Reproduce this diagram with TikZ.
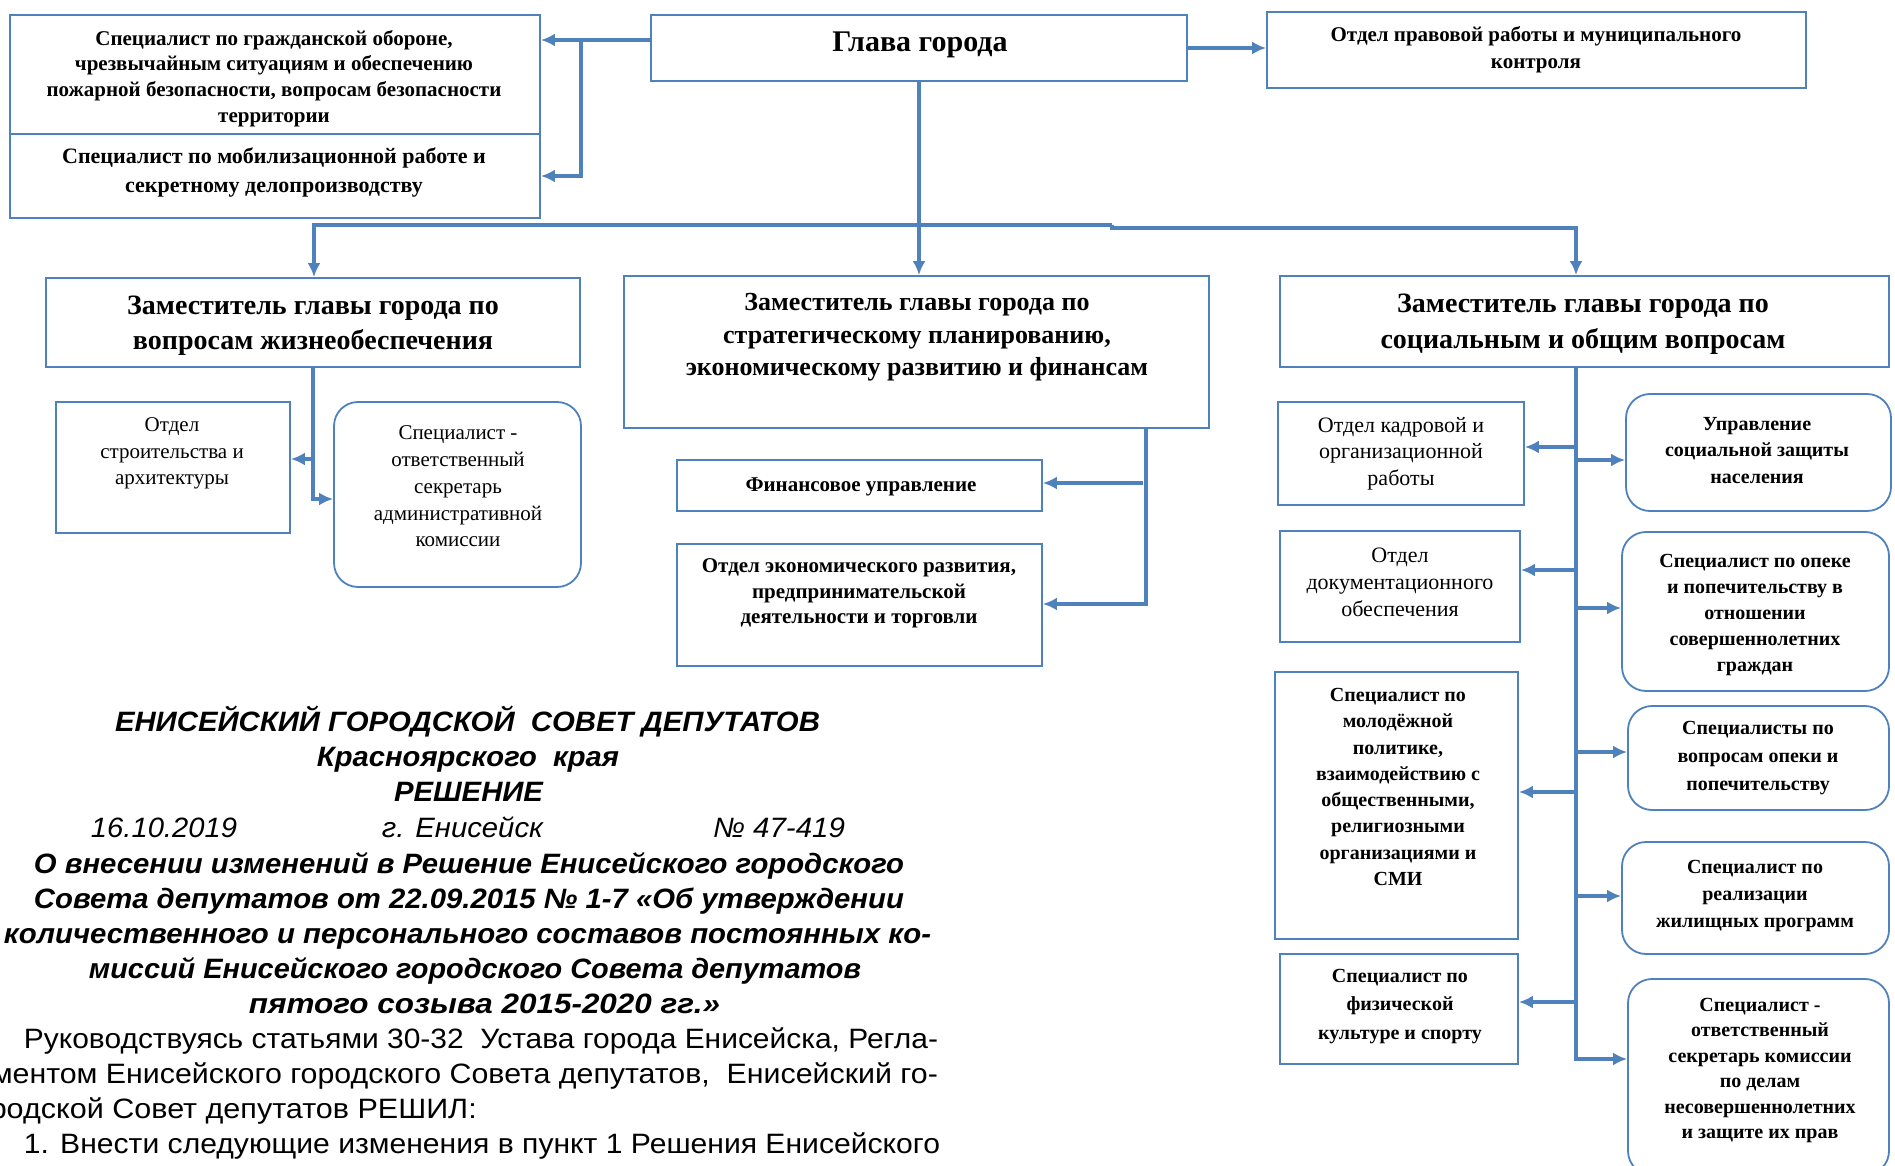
\documentclass[tikz,border=0pt]{standalone}
\usepackage{fontspec}
\setmainfont{Liberation Serif}
\newfontfamily\sansf{Liberation Sans}
\usetikzlibrary{arrows.meta,calc}
\definecolor{lblue}{HTML}{4F81BD}
\newcommand\fitw[2]{\resizebox{#1}{\height}{#2}}
\begin{document}
\begin{tikzpicture}[x=1pt,y=-1pt,
 box/.style={draw=lblue,line width=1.8pt,inner sep=0pt,fill=white},
 rbox/.style={box,rounded corners=24pt},
 txt/.style={inner sep=0pt,align=center},
 conn/.style={draw=lblue,line width=3.5pt},
 arr/.style={conn,-{Latex[length=14pt,width=13pt]}},
 doc/.style={inner sep=0pt,anchor=base,font=\sansf\fontsize{28}{34}\selectfont},
 dochead/.style={doc,font=\sansf\fontsize{28}{34}\selectfont\bfseries\itshape}
]
\useasboundingbox (0,0) rectangle (1895,1166);
\clip (0,0) rectangle (1895,1166);

% ---------- boxes ----------
\node[box,minimum width=530pt,minimum height=119pt] (a1) at (275,74.5) {};
\node[box,minimum width=530pt,minimum height=84pt] (a2) at (275,176) {};
\node[box,minimum width=536pt,minimum height=66pt] (glava) at (919,48) {};
\node[box,minimum width=539pt,minimum height=76pt] (prav) at (1536.5,50) {};
\node[box,minimum width=534pt,minimum height=89pt] (dep1) at (313,322.5) {};
\node[box,minimum width=585pt,minimum height=152pt] (dep2) at (916.5,352) {};
\node[box,minimum width=609pt,minimum height=91pt] (dep3) at (1584.5,321.5) {};
\node[box,minimum width=234pt,minimum height=131pt] (stroi) at (173,467.5) {};
\node[rbox,minimum width=247pt,minimum height=185pt] (adm) at (457.5,494.5) {};
\node[box,minimum width=365pt,minimum height=51pt] (fin) at (859.5,485.5) {};
\node[box,minimum width=365pt,minimum height=122pt] (ekon) at (859.5,605) {};
\node[box,minimum width=246pt,minimum height=103pt] (kadr) at (1401,453.5) {};
\node[box,minimum width=240pt,minimum height=111pt] (dokum) at (1400,586.5) {};
\node[box,minimum width=243pt,minimum height=267pt] (molod) at (1396.5,805.5) {};
\node[box,minimum width=238pt,minimum height=110pt] (fiz) at (1399,1009) {};
\node[rbox,minimum width=265pt,minimum height=117pt] (upr) at (1758.5,452.5) {};
\node[rbox,minimum width=267pt,minimum height=159pt] (opeka) at (1755.5,611.5) {};
\node[rbox,minimum width=261pt,minimum height=104pt] (opek2) at (1758.5,758) {};
\node[rbox,minimum width=267pt,minimum height=112pt] (real) at (1755.5,898) {};
\node[rbox,minimum width=261pt,minimum height=196pt] (kdn) at (1758.5,1077) {};

% ---------- box texts ----------
\node[txt,font=\fontsize{21}{25.7}\selectfont\bfseries] (a1t) at (274,78.5)
 {Специалист по гражданской обороне,\\чрезвычайным ситуациям и обеспечению\\пожарной безопасности, вопросам безопасности\\территории};
\node[txt,font=\fontsize{22}{29}\selectfont\bfseries] (a2t) at (274,172.5)
 {Специалист по мобилизационной работе и\\секретному делопроизводству};
\node[txt,font=\fontsize{30}{36}\selectfont\bfseries] (glavat) at (920,45) {Глава города};
\node[txt,font=\fontsize{21}{27}\selectfont\bfseries] (pravt) at (1536,49.5)
 {Отдел правовой работы и муниципального\\контроля};
\node[txt,font=\fontsize{28}{35}\selectfont\bfseries] (dep1t) at (313,325.5)
 {Заместитель главы города по\\вопросам жизнеобеспечения};
\node[txt,font=\fontsize{26}{32.5}\selectfont\bfseries] (dep2t) at (917,337.5)
 {Заместитель главы города по\\стратегическому планированию,\\экономическому развитию и финансам};
\node[txt,font=\fontsize{28}{36}\selectfont\bfseries] (dep3t) at (1583,324)
 {Заместитель главы города по\\социальным и общим вопросам};
\node[txt,font=\fontsize{21}{26.5}\selectfont] (stroit) at (172,453.5)
 {Отдел\\строительства и\\архитектуры};
\node[txt,font=\fontsize{21}{26.75}\selectfont] (admt) at (458,486.5)
 {Специалист -\\ответственный\\секретарь\\административной\\комиссии};
\node[txt,font=\fontsize{21}{25}\selectfont\bfseries] (fint) at (861,487) {Финансовое управление};
\node[txt,font=\fontsize{21}{25.5}\selectfont\bfseries] (ekont) at (859,593.5)
 {Отдел экономического развития,\\предпринимательской\\деятельности и торговли};
\node[txt,font=\fontsize{22}{26.5}\selectfont] (kadrt) at (1401,453.5)
 {Отдел кадровой и\\организационной\\работы};
\node[txt,font=\fontsize{22}{27}\selectfont] (dokumt) at (1400,582)
 {Отдел\\документационного\\обеспечения};
\node[txt,font=\fontsize{20}{26.3}\selectfont\bfseries] (molodt) at (1398,787)
 {Специалист по\\молодёжной\\политике,\\взаимодействию с\\общественными,\\религиозными\\организациями и\\СМИ};
\node[txt,font=\fontsize{20}{28.5}\selectfont\bfseries] (fizt) at (1400,1006.5)
 {Специалист по\\физической\\культуре и спорту};
\node[txt,font=\fontsize{20}{26.5}\selectfont\bfseries] (uprt) at (1757,450.5)
 {Управление\\социальной защиты\\населения};
\node[txt,font=\fontsize{20}{26}\selectfont\bfseries] (opekat) at (1755,615)
 {Специалист по опеке\\и попечительству в\\отношении\\совершеннолетних\\граждан};
\node[txt,font=\fontsize{20}{28}\selectfont\bfseries] (opek2t) at (1758,758)
 {Специалисты по\\вопросам опеки и\\попечительству};
\node[txt,font=\fontsize{20}{27}\selectfont\bfseries] (realt) at (1755,896)
 {Специалист по\\реализации\\жилищных программ};
\node[txt,font=\fontsize{20}{25.4}\selectfont\bfseries] (kdnt) at (1760,1070.5)
 {Специалист -\\ответственный\\секретарь комиссии\\по делам\\несовершеннолетних\\и защите их прав};

% ---------- connectors ----------
\coordinate (jA) at (581,40);
\draw[arr] ([yshift=8pt]glava.west) -- ([yshift=8pt]glava.west -| a1.east);
\draw[arr] (jA) |- (a2.east);
\draw[arr] (glava.east) -- (glava.east -| prav.west);
\draw[arr] (glava.south) -- (glava.south |- dep2.north);

\coordinate (bL) at (314,225);
\coordinate (bS) at (1112,225);
\coordinate (bR) at (1576,228);
\draw[arr] (bS) -- (bL) -- (bL |- dep1.north);
\draw[arr] (bS) -- (bS |- bR) -- (bR) -- (bR |- dep3.north);

\coordinate (t1a) at (313,459);
\coordinate (t1b) at (313,499);
\draw[arr] (dep1.south) -- (t1a) -- (t1a -| stroi.east);
\draw[arr] (dep1.south) -- (t1b) -- (t1b -| adm.west);

\coordinate (t2) at (1146,604);
\coordinate (t2a) at (1143,483);
\draw[arr] (dep2.south -| t2) -- (t2) -- (t2 -| ekon.east);
\draw[arr] (t2a) -- (t2a -| fin.east);

\coordinate (t3) at (1576,1059);
\draw[arr] (dep3.south -| t3) -- (t3) -- (t3 -| kdn.west);
\coordinate (k1) at (1574,447);
\coordinate (k2) at (1574,570);
\coordinate (k3) at (1574,792);
\coordinate (k4) at (1574,1002);
\coordinate (u1) at (1576,460);
\coordinate (u2) at (1576,608);
\coordinate (u3) at (1576,752);
\coordinate (u4) at (1576,896);
\draw[arr] (k1) -- (k1 -| kadr.east);
\draw[arr] (k2) -- (k2 -| dokum.east);
\draw[arr] (k3) -- (k3 -| molod.east);
\draw[arr] (k4) -- (k4 -| fiz.east);
\draw[arr] (u1) -- (u1 -| upr.west);
\draw[arr] (u2) -- (u2 -| opeka.west);
\draw[arr] (u3) -- (u3 -| opek2.west);
\draw[arr] (u4) -- (u4 -| real.west);

% ---------- document text ----------
\node[dochead] (l1) at (467.5,731) {\fitw{705pt}{ЕНИСЕЙСКИЙ ГОРОДСКОЙ\ \ СОВЕТ ДЕПУТАТОВ}};
\node[dochead] (l2) at (468,766) {\fitw{302pt}{Красноярского\ \ края}};
\node[dochead] (l3) at (468.5,801) {\fitw{149pt}{РЕШЕНИЕ}};
\node[doc,font=\sansf\fontsize{28}{34}\selectfont\itshape] (l4a) at (164,837) {\fitw{146pt}{16.10.2019}};
\node[doc,font=\sansf\fontsize{28}{34}\selectfont\itshape] (l4b) at (462.5,837) {\fitw{161pt}{г. Енисейск}};
\node[doc,font=\sansf\fontsize{28}{34}\selectfont\itshape] (l4c) at (779,837) {\fitw{132pt}{№ 47-419}};
\node[dochead] (l5) at (469,873) {\fitw{870pt}{О внесении изменений в Решение Енисейского городского}};
\node[dochead] (l6) at (469,908) {\fitw{870pt}{Совета депутатов от 22.09.2015 № 1-7 «Об утверждении}};
\node[dochead] (l7) at (467.5,943) {\fitw{927pt}{количественного и персонального составов постоянных ко-}};
\node[dochead] (l8) at (475,978) {\fitw{772pt}{миссий Енисейского городского Совета депутатов}};
\node[dochead] (l9) at (484.5,1013) {\fitw{471pt}{пятого созыва 2015-2020 гг.»}};
\node[doc] (l10) at (481,1048) {\fitw{914pt}{Руководствуясь статьями 30-32\ \ Устава города Енисейска, Регла-}};
\node[doc,anchor=base east] (l11) at (938,1083) {\fitw{946pt}{ментом Енисейского городского Совета депутатов,\ \ Енисейский го-}};
\node[doc,anchor=base east] (l12) at (477,1118) {\fitw{487pt}{родской Совет депутатов РЕШИЛ:}};
\node[doc] (l13) at (482,1153) {\fitw{916pt}{1. Внести следующие изменения в пункт 1 Решения Енисейского}};
\end{tikzpicture}
\end{document}
